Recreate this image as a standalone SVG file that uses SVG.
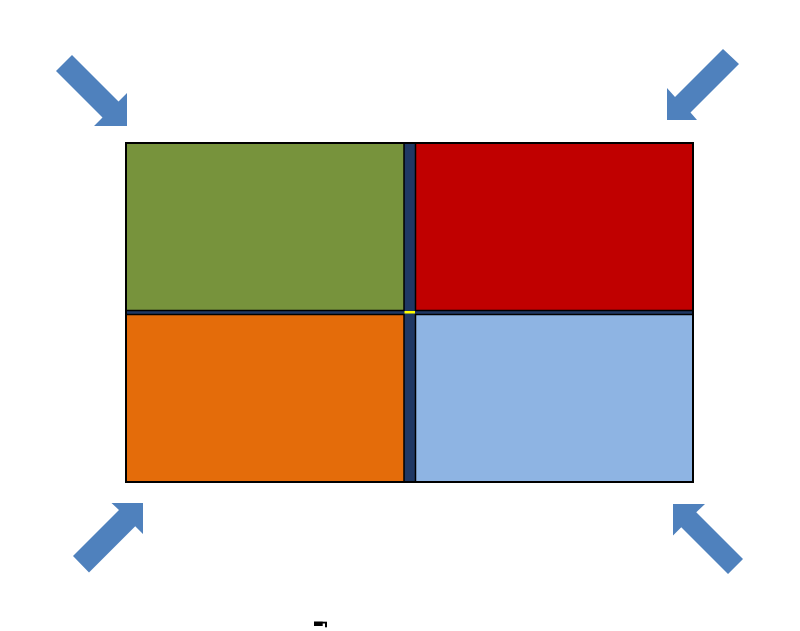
<svg xmlns="http://www.w3.org/2000/svg" width="800" height="631" viewBox="0 0 800 631">
<style>
.arrow{fill:#4F81BD;stroke:none}
.cell{stroke:#000;stroke-width:1.5}
</style>
<rect width="800" height="631" fill="#fff"/>
<g id="grid">
<rect x="126" y="143" width="567" height="339" fill="#1F3864" stroke="#000" stroke-width="2"/>
<rect id="green" class="cell" x="126" y="143" width="278" height="167.5" fill="#77933C"/>
<rect id="red" class="cell" x="415.5" y="143" width="277.5" height="167.5" fill="#C00000"/>
<rect id="orange" class="cell" x="126" y="314.5" width="278" height="167.5" fill="#E46C0A"/>
<rect id="blue" class="cell" x="415.5" y="314.5" width="277.5" height="167.5" fill="#8EB4E3"/>
<rect id="yellow" x="404.5" y="311" width="10.5" height="2.5" fill="#FFFF00"/>
<rect x="126" y="143" width="567" height="339" fill="none" stroke="#000" stroke-width="2"/>
</g>
<g id="arrows">
<polygon id="arrow-tl" class="arrow" points="72,55 118.5,101.5 127,93 127,126 94,126 102.5,117.5 56,71"/>
<polygon id="arrow-tr" class="arrow" points="723,49 739,64 690.5,112.5 697,120 667,120 667,88 675,97"/>
<polygon id="arrow-bl" class="arrow" points="143,503 143,534 135.25,526.25 89,572.5 73,556 119,510 111.5,503"/>
<polygon id="arrow-br" class="arrow" points="673,504 705,504 696.25,512.25 743,559 728,574 681.25,527.25 673,535.5"/>
</g>
<g id="mark" fill="#000">
<rect x="314" y="621.7" width="13" height="1.8"/>
<rect x="314" y="621.7" width="8.7" height="4.3"/>
<rect x="325" y="623" width="2" height="4.3"/>
</g>
</svg>
